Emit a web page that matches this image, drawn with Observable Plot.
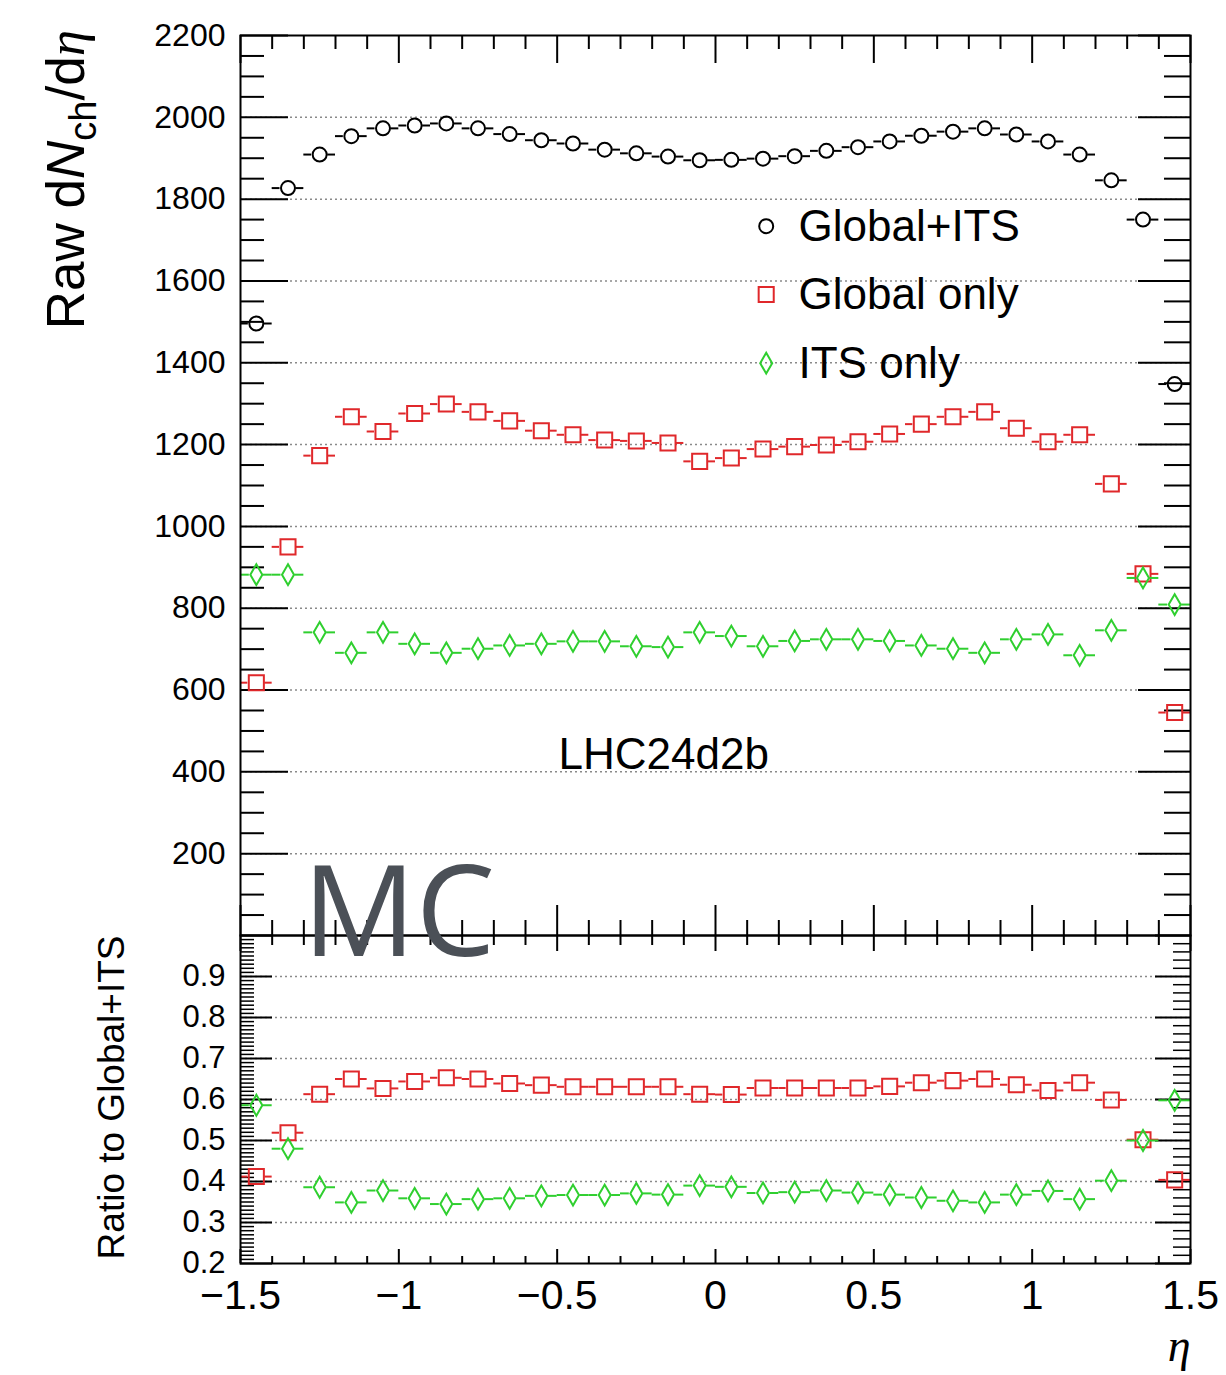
<!DOCTYPE html>
<html><head><meta charset="utf-8">
<script src="https://cdn.jsdelivr.net/npm/d3@7"></script>
<script src="https://cdn.jsdelivr.net/npm/@observablehq/plot@0.6"></script>
<style>
body{margin:0;background:#fff;}
#wrap{position:relative;width:1226px;height:1375px;overflow:hidden;background:#fff;}
#wrap svg{position:absolute;left:0;}
</style></head><body><div id="wrap"></div>
<script>
// ---------- data ----------
const eta = [-1.45,-1.35,-1.25,-1.15,-1.05,-0.95,-0.85,-0.75,-0.65,-0.55,-0.45,-0.35,-0.25,-0.15,-0.05,
             0.05,0.15,0.25,0.35,0.45,0.55,0.65,0.75,0.85,0.95,1.05,1.15,1.25,1.35,1.45];
const binHalfWidth = 0.05;
const globalITS = [1496,1827,1909,1954,1973,1980,1985,1973,1959,1944,1936,1921,1912,1904,1895,
                   1896,1899,1905,1918,1927,1941,1955,1965,1973,1958,1941,1909,1846,1750,1348];
const globalOnly = [618,950,1173,1268,1232,1276,1299,1280,1258,1234,1224,1211,1209,1204,1159,
                    1167,1189,1195,1199,1207,1226,1250,1268,1280,1240,1207,1224,1104,884,545];
const itsOnly = [882,882,741,691,741,713,691,701,709,713,719,719,707,705,741,
                 732,707,720,724,724,720,709,701,691,724,736,685,746,874,809];
const ratioGlobalOnly = [0.412,0.519,0.613,0.650,0.627,0.644,0.653,0.650,0.639,0.635,0.631,0.631,0.631,0.631,0.613,
                         0.612,0.628,0.628,0.628,0.628,0.632,0.641,0.646,0.650,0.636,0.622,0.641,0.599,0.502,0.404];
const ratioITSOnly = [0.586,0.480,0.386,0.349,0.378,0.359,0.345,0.357,0.359,0.365,0.367,0.367,0.371,0.368,0.390,
                      0.387,0.372,0.374,0.378,0.373,0.368,0.361,0.353,0.349,0.368,0.377,0.357,0.402,0.500,0.598];
const seriesNames = ["Global+ITS","Global only","ITS only"];
const yTicksTop = [200,400,600,800,1000,1200,1400,1600,1800,2000,2200];
const yTicksRatio = [0.2,0.3,0.4,0.5,0.6,0.7,0.8,0.9];
const xTicks = [-1.5,-1,-0.5,0,0.5,1,1.5];
const runLabel = "LHC24d2b";
const watermark = "MC";
const yTitleRatio = "Ratio to Global+ITS";
const xTitle = "η";

// ---------- styles ----------
const colors = ["#000000","#e0282b","#2fcf2f"];
const symbols = ["circle","square","diamond"];
const radii = [7,8.5,6.3];
const gapsPx = [8,8.5,7];
const FONT = "'Liberation Sans', Arial, Helvetica, sans-serif";
const W = 1226, ML = 240, MR = 36, FW = W - ML - MR;
const topH = 935, topMT = 35, topFH = topH - topMT;
const botH = 440, botMB = 112, botFH = botH - botMB;
const gridStyle = {stroke:"#8a8a8a", strokeWidth:1.5, strokeDasharray:"2,3"};

const fmtX = d => d < 0 ? "\u2212" + Math.abs(d) : String(d);
const xMajor = xTicks;
const xMinor = d3.range(-15,16).map(v => v/10).filter(v => Math.abs(Math.round(v*10)) % 5 !== 0);
const yMinorTop = d3.range(0,2201,50).filter(v => v % 200 !== 0);
const yMajorRatio = d3.range(2,11).map(v => v/10);
const yMinorRatioL = d3.range(20,101).filter(v => v % 10 !== 0).map(v => v/100);
const yMinorRatioR = d3.range(20,101,2).filter(v => v % 10 !== 0).map(v => v/100);

function rows(vals){ return eta.map((x,i) => ({x, y: vals[i]})); }
function pointMarks(vals, k){
  const data = rows(vals);
  const gap = gapsPx[k] / (FW/3);
  return [
    Plot.ruleY(data, {y:"y", x1: d => d.x - binHalfWidth, x2: d => d.x - gap, stroke: colors[k], strokeWidth: 2}),
    Plot.ruleY(data, {y:"y", x1: d => d.x + gap, x2: d => d.x + binHalfWidth, stroke: colors[k], strokeWidth: 2}),
    Plot.dot(data, {x:"x", y:"y", symbol: symbols[k], r: radii[k], stroke: colors[k], strokeWidth: 2, fill: "none"})
  ];
}
function yTickMarks(vals, len, side, sw){
  const o = {y: d => d, stroke: "#000", strokeWidth: sw};
  o[side === "left" ? "insetRight" : "insetLeft"] = FW - len;
  return Plot.tickY(vals, o);
}
function xTickMarks(vals, len, side, sw, fh){
  const o = {x: d => d, stroke: "#000", strokeWidth: sw};
  o[side === "top" ? "insetBottom" : "insetTop"] = fh - len;
  return Plot.tickX(vals, o);
}

const wrap = document.getElementById("wrap");

// ---------- top panel ----------
const legendMarks = [];
const legendMarkerDy = [190.7, 259, 327.7];
const legendTextDy = [205, 273, 342];
seriesNames.forEach((name, k) => {
  legendMarks.push(Plot.dot([name], {frameAnchor: "top-left", dx: 525.7, dy: legendMarkerDy[k],
    symbol: symbols[k], r: radii[k], stroke: colors[k], strokeWidth: 2, fill: "none"}));
  legendMarks.push(Plot.text([name], {frameAnchor: "top-left", dx: 558, dy: legendTextDy[k], text: d => d,
    textAnchor: "start", lineAnchor: "bottom", fontSize: 44, fill: "#000"}));
});

const topSvg = Plot.plot({
  width: W, height: topH, marginLeft: ML, marginRight: MR, marginTop: topMT, marginBottom: 0,
  style: {background: "transparent", overflow: "visible", fontFamily: FONT, color: "#000"},
  x: {domain: [-1.5, 1.5], axis: null},
  y: {domain: [0, 2200], label: null},
  marks: [
    Plot.ruleY(yTicksTop.filter(v => v < 2200), {y: d => d, ...gridStyle}),
    yTickMarks(yTicksTop, 48, "left", 2),
    yTickMarks(yMinorTop, 24, "left", 2),
    yTickMarks(yTicksTop, 52, "right", 2),
    yTickMarks(yMinorTop, 26, "right", 2),
    xTickMarks(xMajor, 28, "top", 2, topFH),
    xTickMarks(xMinor, 14, "top", 2, topFH),
    xTickMarks(xMajor, 30, "bottom", 2, topFH),
    xTickMarks(xMinor, 15, "bottom", 2, topFH),
    Plot.axisY({ticks: yTicksTop, tickSize: 0, tickPadding: 15, fontSize: 32, label: null, tickFormat: d3.format("d")}),
    ...pointMarks(globalITS, 0),
    ...pointMarks(globalOnly, 1),
    ...pointMarks(itsOnly, 2),
    ...legendMarks,
    Plot.text([runLabel], {frameAnchor: "top-left", dx: 318, dy: 733, text: d => d, textAnchor: "start",
      lineAnchor: "bottom", fontSize: 44, fill: "#000"}),
    Plot.frame({stroke: "#000", strokeWidth: 2})
  ]
});
topSvg.style.top = "0px";
wrap.appendChild(topSvg);

// y title with subscript
{
  const t = d3.select(topSvg).append("text")
    .attr("transform", "translate(84,30) rotate(-90)")
    .attr("text-anchor", "end")
    .attr("fill", "#000")
    .style("font-family", FONT).style("font-size", "53px");
  t.append("tspan").text("Raw d");
  t.append("tspan").attr("font-style", "italic").text("N");
  t.append("tspan").attr("font-size", "38px").attr("dy", 12).text("ch");
  t.append("tspan").attr("dy", -12).text("/d");
  t.append("tspan").attr("font-style", "italic").style("font-family", "'Liberation Serif', 'DejaVu Serif', serif").text("η");
}

// ---------- ratio panel ----------
const botSvg = Plot.plot({
  width: W, height: botH, marginLeft: ML, marginRight: MR, marginTop: 0, marginBottom: botMB,
  style: {background: "transparent", overflow: "visible", fontFamily: FONT, color: "#000"},
  x: {domain: [-1.5, 1.5], label: null},
  y: {domain: [0.2, 1.0], label: null},
  marks: [
    Plot.ruleY(yTicksRatio.filter(v => v > 0.2), {y: d => d, ...gridStyle}),
    yTickMarks(yMajorRatio, 32, "left", 2),
    yTickMarks(yMinorRatioL, 14, "left", 1.5),
    yTickMarks(yMajorRatio, 35, "right", 2),
    yTickMarks(yMinorRatioR, 17, "right", 1.5),
    xTickMarks(xMajor, 16, "top", 2, botFH),
    xTickMarks(xMinor, 10, "top", 2, botFH),
    xTickMarks(xMajor, 14, "bottom", 2, botFH),
    xTickMarks(xMinor, 7, "bottom", 2, botFH),
    Plot.axisY({ticks: yTicksRatio, tickSize: 0, tickPadding: 15, fontSize: 31, label: null, tickFormat: d3.format(".1f")}),
    Plot.axisX({ticks: xTicks, tickSize: 0, tickPadding: 16, fontSize: 41, label: null, tickFormat: fmtX}),
    ...pointMarks(ratioGlobalOnly, 1),
    ...pointMarks(ratioITSOnly, 2),
    Plot.text([yTitleRatio], {frameAnchor: "top-left", dx: -117, dy: 0, rotate: -90, text: d => d,
      textAnchor: "end", lineAnchor: "bottom", fontSize: 37, fill: "#000"}),
    Plot.text([xTitle], {frameAnchor: "bottom-right", dx: 0, dy: 97, text: d => d, textAnchor: "end",
      lineAnchor: "bottom", fontSize: 46, fontStyle: "italic", fontFamily: "'Liberation Serif', 'DejaVu Serif', serif", fill: "#000"}),
    Plot.frame({stroke: "#000", strokeWidth: 2}),
    Plot.text([watermark], {frameAnchor: "top-left", dx: 62, dy: 20, text: d => d, textAnchor: "start",
      lineAnchor: "bottom", fontSize: 126, fontFamily: "'Open Sans', Lato, sans-serif", fill: "#4b5057"})
  ]
});
botSvg.style.top = topH + "px";
wrap.appendChild(botSvg);
</script></body></html>
